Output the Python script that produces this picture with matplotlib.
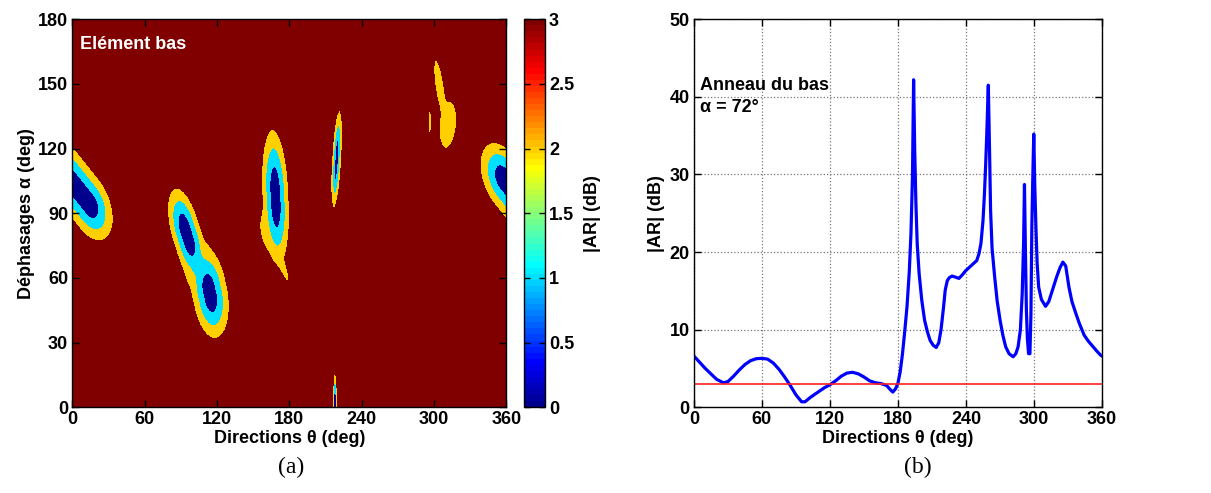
import numpy as np
import matplotlib
matplotlib.use("Agg")
import matplotlib.pyplot as plt
from matplotlib import cm, colors

plt.rcParams['font.family'] = ['Liberation Sans', 'DejaVu Sans']
plt.rcParams['font.weight'] = 'bold'
plt.rcParams['axes.labelweight'] = 'bold'
plt.rcParams['font.size'] = 13

# (a) zones de faible |AR| : centre theta, centre alpha, demi-longueur, demi-largeur,
# partie plate le long du grand axe, angle (deg), valeur au coeur
blob_theta = [6.0, 95.0, 114.0, 104.5, 168.5, 162.0, 174.0, 219.2, 217.8, 296.6, 311.5, 304.5]
blob_alpha = [100.0, 80.0, 53.0, 66.0, 97.5, 82.0, 66.0, 115.0, 0.0, 132.4, 131.0, 149.0]
blob_long = [32.0, 24.0, 22.0, 12.0, 31.5, 9.0, 9.0, 22.7, 16.5, 10.6, 11.0, 12.5]
blob_larg = [14.0, 11.5, 14.5, 12.0, 11.0, 6.0, 2.5, 4.0, 2.0, 0.9, 6.8, 3.5]
blob_plat = [10.0, 3.0, 2.0, 0.0, 3.0, 0.0, 0.0, 3.0, 0.0, 0.0, 0.0, 0.0]
blob_angle = [-35.0, -60.0, -68.0, -62.0, -85.0, -70.0, -55.0, 84.0, 90.0, 90.0, 75.0, 105.0]
blob_v0 = [-0.3, -0.3, -0.2, 1.3, -0.3, 2.3, 2.3, 0.0, -1.5, 2.3, 2.0, 2.3]

# (b) |AR| en fonction de theta pour alpha = 72 deg
theta_b = [0, 5, 10, 15, 20, 26, 30, 35, 40, 45, 50, 55, 60, 65, 70, 75, 80, 85, 90, 95,
           98, 103, 110, 115, 120, 125, 130, 135, 140, 145, 150, 155, 160, 165, 170, 173,
           175.5, 178, 180, 182, 184, 186, 188, 190, 191.5, 192.8, 193.8, 194.8, 195.8,
           197, 198.7, 201, 203.5, 206, 208.4, 211, 213.7, 216, 218, 220, 221.7, 223.5,
           225.3, 227.7, 230, 233.8, 237, 239.8, 245, 249.5, 251.5, 253.2, 255, 256.3,
           257.3, 258.3, 259.7, 260.8, 261.7, 263, 265.3, 267.5, 270.1, 272.5, 275, 278,
           281.6, 284, 286, 288, 289.6, 290.8, 291.6, 292.4, 293.3, 294.2, 295.2, 296.4,
           297.3, 298.1, 299, 299.8, 300.7, 301.7, 302.8, 304.1, 306.5, 310.2, 313,
           316.3, 320, 323, 325.5, 328, 330.8, 333.5, 336.9, 340, 344.2, 348, 351.5,
           355, 358.8, 360]
ar_b = [6.6, 5.8, 5.0, 4.3, 3.6, 3.15, 3.3, 4.0, 4.8, 5.5, 6.0, 6.25, 6.3, 6.2, 5.7, 4.9,
        3.9, 2.8, 1.6, 0.7, 0.7, 1.3, 2.0, 2.5, 2.9, 3.4, 4.0, 4.4, 4.5, 4.3, 3.9, 3.4,
        3.15, 3.05, 2.8, 2.3, 1.95, 2.4, 3.1, 4.6, 6.9, 9.8, 13.0, 17.5, 22.5, 29.7, 42.2,
        33.0, 26.5, 21.0, 17.2, 13.8, 11.2, 9.7, 8.6, 8.0, 7.7, 8.3, 10.0, 12.6, 15.1,
        16.3, 16.7, 16.9, 16.8, 16.6, 17.1, 17.6, 18.3, 18.9, 19.8, 21.1, 24.0, 27.5,
        31.0, 35.0, 41.5, 33.0, 25.4, 20.5, 16.8, 13.7, 11.2, 9.3, 7.8, 6.9, 6.5, 6.9,
        7.8, 10.0, 14.6, 21.0, 28.7, 20.5, 12.5, 8.8, 6.9, 6.9, 12.0, 23.2, 30.0, 35.2,
        28.5, 23.2, 18.5, 15.5, 13.9, 13.0, 13.6, 15.1, 16.8, 18.0, 18.7, 18.2, 15.5,
        13.6, 12.1, 10.8, 9.3, 8.5, 7.9, 7.3, 6.7, 6.6]
seuil = 3.0


def matlab_jet(m=64):
    # palette jet de MATLAB (64 couleurs)
    n = int(np.ceil(m / 4))
    u = np.r_[np.arange(1, n + 1) / n, np.ones(n - 1), np.arange(n, 0, -1) / n]
    g = int(np.ceil(n / 2)) - (1 if m % 4 == 1 else 0) + np.arange(1, len(u) + 1)
    r = g + n
    b = g - n
    cmap = np.zeros((m, 3))
    for col, idx in ((0, r), (1, g), (2, b)):
        ok = (idx >= 1) & (idx <= m)
        cmap[idx[ok] - 1, col] = u[ok]
    return colors.ListedColormap(cmap)


jet = matlab_jet(64)
band_colors = [jet(0), jet(21), jet(42), jet(63)]

# champ |AR|(theta, alpha) pour la carte (a)
th = np.linspace(0, 360, 1441)
al = np.linspace(0, 180, 721)
TH, AL = np.meshgrid(th, al)
k = 4.0
acc = np.zeros_like(TH)
for tc, ac, la, lb, lp, ang, v0 in zip(blob_theta, blob_alpha, blob_long, blob_larg,
                                       blob_plat, blob_angle, blob_v0):
    dx = (TH - tc + 180) % 360 - 180
    dy = AL - ac
    c, s = np.cos(np.radians(ang)), np.sin(np.radians(ang))
    u = np.maximum(np.abs(dx * c + dy * s) - lp, 0)
    w = -dx * s + dy * c
    d = np.sqrt((u / (la - lp)) ** 2 + (w / lb) ** 2)
    v = v0 + (3.0 - v0) * d
    acc += np.exp(-k * np.minimum(v, 12))
AR = -np.log(acc) / k

fig = plt.figure(figsize=(12.11, 4.93), dpi=100)
ax1 = fig.add_axes([0.0597, 0.174, 0.3585, 0.787])
cax = fig.add_axes([0.4327, 0.174, 0.0173, 0.787])
ax2 = fig.add_axes([0.573, 0.174, 0.337, 0.787])

ax1.contourf(TH, AL, AR, levels=[-10, 1, 2, 3, 100], colors=band_colors, antialiased=False)
ax1.set_xlim(0, 360)
ax1.set_ylim(0, 180)
ax1.set_xticks(np.arange(0, 361, 60))
ax1.set_yticks(np.arange(0, 181, 30))
ax1.set_xlabel('Directions θ (deg)', labelpad=1)
ax1.set_ylabel('Déphasages α (deg)', labelpad=2)
ax1.text(6, 168.5, 'Elément bas', color='white', fontsize=13, fontweight='bold', va='center')

sm = cm.ScalarMappable(norm=colors.Normalize(0, 3), cmap=jet)
cb = fig.colorbar(sm, cax=cax)
cb.set_ticks([0, 0.5, 1, 1.5, 2, 2.5, 3])
cb.set_ticklabels(['0', '0.5', '1', '1.5', '2', '2.5', '3'])
cb.set_label('|AR| (dB)', labelpad=7)
cax.tick_params(direction='in', left=True, right=True, length=4, width=1, pad=3)
cb.outline.set_linewidth(1)

ax2.plot(theta_b, ar_b, color='#0000ff', lw=2.3)
ax2.axhline(seuil, color='#ff2020', lw=1.2)
ax2.set_xlim(0, 360)
ax2.set_ylim(0, 50)
ax2.set_xticks(np.arange(0, 361, 60))
ax2.set_yticks(np.arange(0, 51, 10))
ax2.grid(True, linestyle=':', color='#777777', lw=0.9)
ax2.set_xlabel('Directions θ (deg)', labelpad=1)
ax2.set_ylabel('|AR| (dB)', labelpad=3)
ax2.text(5, 42.6, 'Anneau du bas\nα = 72°', fontsize=13, fontweight='bold', va='top',
         linespacing=1.4)

for ax in (ax1, ax2):
    ax.tick_params(direction='in', top=True, right=True, length=5, width=1, pad=3)
    for sp in ax.spines.values():
        sp.set_linewidth(1)

fig.text(0.24, 0.04, '(a)', family='Liberation Serif', fontweight='normal', fontsize=17, ha='center')
fig.text(0.758, 0.04, '(b)', family='Liberation Serif', fontweight='normal', fontsize=17, ha='center')

fig.savefig('out.png', dpi=100)
